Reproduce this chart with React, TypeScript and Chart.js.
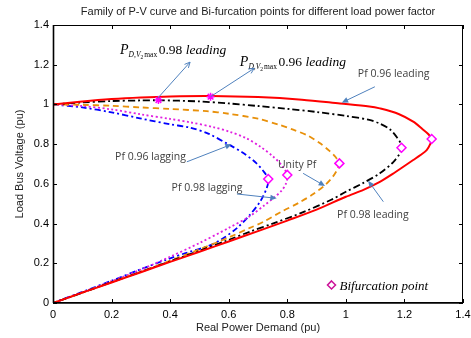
import React, { useEffect, useRef } from "react";
import { Chart, registerables } from "chart.js";

Chart.register(...registerables);

// ---- Data (P = real power demand pu, V = load bus voltage pu) ----
const redP = [0, 0.1, 0.2, 0.3, 0.4, 0.538, 0.7, 0.85, 0.98, 1.08, 1.116, 1.18, 1.23, 1.262, 1.282, 1.293,
  1.288, 1.276, 1.255, 1.23, 1.2, 1.16, 1.116, 1.06, 1.0, 0.9, 0.8, 0.7, 0.6, 0.5, 0.4, 0.3, 0.2, 0.1, 0];
const redV = [1.0, 1.015, 1.027, 1.035, 1.04, 1.042, 1.037, 1.024, 1.005, 0.99, 0.98, 0.952, 0.913, 0.875, 0.85, 0.826,
  0.8, 0.77, 0.745, 0.72, 0.69, 0.65, 0.61, 0.57, 0.535, 0.47, 0.415, 0.362, 0.31, 0.258, 0.207, 0.155, 0.103, 0.052, 0];

const blackP = [0, 0.1, 0.2, 0.3, 0.36, 0.5, 0.6, 0.7, 0.8, 0.9, 1.0, 1.08, 1.116, 1.15, 1.173, 1.187, 1.19,
  1.185, 1.162, 1.116, 1.06, 1.0, 0.95, 0.85, 0.75, 0.672, 0.6, 0.5, 0.4, 0.3, 0.2, 0.1, 0];
const blackV = [1.0, 1.01, 1.017, 1.02, 1.021, 1.015, 1.005, 0.992, 0.978, 0.962, 0.942, 0.922, 0.903, 0.875, 0.837, 0.805, 0.782,
  0.755, 0.71, 0.653, 0.605, 0.56, 0.52, 0.455, 0.4, 0.359, 0.318, 0.263, 0.21, 0.157, 0.105, 0.052, 0];

const orangeP = [0, 0.1, 0.2, 0.3, 0.4, 0.525, 0.6, 0.7, 0.775, 0.82, 0.87, 0.912, 0.945, 0.965, 0.978,
  0.972, 0.955, 0.929, 0.89, 0.84, 0.78, 0.72, 0.672, 0.6, 0.5, 0.4, 0.3, 0.2, 0.1, 0];
const orangeV = [1.0, 0.998, 0.993, 0.985, 0.977, 0.966, 0.953, 0.928, 0.896, 0.873, 0.843, 0.804, 0.765, 0.735, 0.703,
  0.675, 0.635, 0.594, 0.55, 0.505, 0.46, 0.41, 0.378, 0.33, 0.27, 0.213, 0.158, 0.105, 0.052, 0];

const magentaP = [0, 0.1, 0.2, 0.3, 0.4, 0.468, 0.55, 0.604, 0.66, 0.71, 0.75, 0.78, 0.8,
  0.795, 0.78, 0.758, 0.72, 0.672, 0.6, 0.5, 0.4, 0.3, 0.2, 0.1, 0];
const magentaV = [1.0, 0.992, 0.975, 0.95, 0.927, 0.91, 0.885, 0.862, 0.83, 0.785, 0.74, 0.695, 0.645,
  0.6, 0.565, 0.535, 0.49, 0.437, 0.378, 0.302, 0.233, 0.168, 0.11, 0.054, 0];

const blueP = [0, 0.1, 0.2, 0.297, 0.4, 0.468, 0.53, 0.604, 0.65, 0.69, 0.718, 0.735,
  0.73, 0.707, 0.67, 0.627, 0.58, 0.536, 0.45, 0.4, 0.3, 0.2, 0.1, 0];
const blueV = [1.0, 0.985, 0.96, 0.93, 0.9, 0.883, 0.853, 0.795, 0.755, 0.71, 0.665, 0.624,
  0.58, 0.51, 0.44, 0.376, 0.325, 0.29, 0.25, 0.225, 0.17, 0.112, 0.056, 0];

const bifP = [1.293, 1.19, 0.978, 0.8, 0.735];
const bifV = [0.826, 0.782, 0.703, 0.645, 0.624];

const vmaxP = [0.36, 0.538];
const vmaxV = [1.022, 1.039];

const xTicks = [0, 0.2, 0.4, 0.6, 0.8, 1, 1.2, 1.4];
const yTicks = [0, 0.2, 0.4, 0.6, 0.8, 1, 1.2, 1.4];

const titleText = "Family of P-V curve and Bi-furcation points for different load power factor";
const xTitle = "Real Power Demand (pu)";
const yTitle = "Load Bus Voltage (pu)";

const toPts = (xs: number[], ys: number[]) => xs.map((x, i) => ({ x, y: ys[i] }));

const SANS = "'Liberation Sans', Arial, sans-serif";
const SERIF = "'Liberation Serif', 'Times New Roman', serif";
const CAL = "'Open Sans', 'Noto Sans', sans-serif";
const ARROW = "#4F81BD";

function drawArrow(ctx: CanvasRenderingContext2D, x1: number, y1: number, x2: number, y2: number, open: boolean) {
  ctx.save();
  ctx.strokeStyle = ARROW;
  ctx.fillStyle = ARROW;
  ctx.lineWidth = 1;
  const ang = Math.atan2(y2 - y1, x2 - x1);
  const L = open ? 6 : 7;
  const W = open ? 0.45 : 0.42;
  ctx.beginPath();
  ctx.moveTo(x1, y1);
  ctx.lineTo(open ? x2 : x2 - Math.cos(ang) * L * 0.8, open ? y2 : y2 - Math.sin(ang) * L * 0.8);
  ctx.stroke();
  const ax = x2 - Math.cos(ang - W) * L, ay = y2 - Math.sin(ang - W) * L;
  const bx = x2 - Math.cos(ang + W) * L, by = y2 - Math.sin(ang + W) * L;
  ctx.beginPath();
  if (open) {
    ctx.moveTo(ax, ay); ctx.lineTo(x2, y2); ctx.lineTo(bx, by); ctx.stroke();
  } else {
    ctx.moveTo(x2, y2); ctx.lineTo(ax, ay); ctx.lineTo(bx, by); ctx.closePath(); ctx.fill();
  }
  ctx.restore();
}

function drawPLabel(ctx: CanvasRenderingContext2D, x: number, y: number, value: string) {
  ctx.save();
  ctx.fillStyle = "#000";
  ctx.textBaseline = "alphabetic";
  ctx.textAlign = "left";
  let cx = x;
  ctx.font = `italic 14px ${SERIF}`;
  ctx.fillText("P", cx, y); cx += ctx.measureText("P").width;
  ctx.font = `italic 7.5px ${SERIF}`;
  ctx.fillText("D,V", cx, y + 3); cx += ctx.measureText("D,V").width;
  ctx.font = `5.5px ${SERIF}`;
  ctx.fillText("2", cx, y + 5); cx += ctx.measureText("2").width + 1;
  ctx.font = `7.5px ${SERIF}`;
  ctx.fillText("max", cx, y + 3); cx += ctx.measureText("max").width + 1.5;
  ctx.font = `13.5px ${SERIF}`;
  ctx.fillText(value + " ", cx, y); cx += ctx.measureText(value + " ").width;
  ctx.font = `italic 13.5px ${SERIF}`;
  ctx.fillText("leading", cx, y);
  ctx.restore();
}

const decorPlugin = {
  id: "decor",
  afterDraw(chart: any) {
    const ctx: CanvasRenderingContext2D = chart.ctx;
    const { left, right, top, bottom } = chart.chartArea;
    const xs = chart.scales.x, ys = chart.scales.y;
    const px = (v: number) => xs.getPixelForValue(v);
    const py = (v: number) => ys.getPixelForValue(v);
    ctx.save();
    // box
    ctx.strokeStyle = "#000";
    ctx.lineWidth = 1;
    ctx.strokeRect(left + 0.5, top + 0.5, right - left - 1, bottom - top - 1);
    ctx.lineWidth = 1.6;
    ctx.beginPath();
    ctx.moveTo(left, bottom); ctx.lineTo(right, bottom);
    ctx.moveTo(left + 0.5, top); ctx.lineTo(left + 0.5, bottom);
    ctx.stroke();
    ctx.lineWidth = 1;
    ctx.beginPath();
    xTicks.forEach((t) => {
      const x = Math.round(px(t)) + 0.5;
      ctx.moveTo(x, bottom); ctx.lineTo(x, bottom - 4);
      ctx.moveTo(x, top); ctx.lineTo(x, top + 4);
    });
    yTicks.forEach((t) => {
      const y = Math.round(py(t)) + 0.5;
      ctx.moveTo(left, y); ctx.lineTo(left + 4, y);
      ctx.moveTo(right, y); ctx.lineTo(right - 4, y);
    });
    ctx.stroke();

    // titles
    ctx.fillStyle = "#222";
    ctx.font = `11px ${SANS}`;
    ctx.textAlign = "center";
    ctx.textBaseline = "middle";
    ctx.fillText(titleText, (left + right) / 2, 12);
    ctx.fillText(xTitle, (left + right) / 2, 328);
    ctx.save();
    ctx.translate(20, (top + bottom) / 2);
    ctx.rotate(-Math.PI / 2);
    ctx.fillText(yTitle, 0, 0);
    ctx.restore();

    // annotations
    drawPLabel(ctx, px(0.229), py(1.252), "0.98");
    drawPLabel(ctx, px(0.638), py(1.195), "0.96");
    drawArrow(ctx, px(0.358), py(1.032), px(0.468), py(1.213), true);
    drawArrow(ctx, px(0.538), py(1.039), px(0.687), py(1.182), true);

    ctx.font = `10.5px ${CAL}`;
    ctx.fillStyle = "#404040";
    ctx.textAlign = "left";
    ctx.textBaseline = "middle";
    ctx.fillText("Pf 0.96 leading", px(1.041), py(1.153));
    ctx.fillText("Pf 0.96 lagging", px(0.212), py(0.735));
    ctx.fillText("Pf 0.98 lagging", px(0.405), py(0.579));
    ctx.fillText("Unity Pf", px(0.768), py(0.695));
    ctx.fillText("Pf 0.98 leading", px(0.97), py(0.443));

    drawArrow(ctx, px(1.099), py(1.089), px(0.986), py(1.009), false);
    drawArrow(ctx, px(0.457), py(0.711), px(0.61), py(0.799), false);
    drawArrow(ctx, px(0.628), py(0.549), px(0.764), py(0.527), false);
    drawArrow(ctx, px(0.854), py(0.653), px(0.929), py(0.589), false);
    drawArrow(ctx, px(1.128), py(0.51), px(1.076), py(0.616), false);

    // legend
    const lx = px(0.951), ly = py(0.091);
    ctx.strokeStyle = "#CC1199";
    ctx.lineWidth = 1.5;
    ctx.beginPath();
    ctx.moveTo(lx, ly - 4); ctx.lineTo(lx + 4, ly); ctx.lineTo(lx, ly + 4); ctx.lineTo(lx - 4, ly); ctx.closePath();
    ctx.stroke();
    ctx.fillStyle = "#000";
    ctx.font = `italic 13px ${SERIF}`;
    ctx.textBaseline = "alphabetic";
    ctx.fillText("Bifurcation point", lx + 8, ly + 5);
    ctx.restore();
  },
};

export default function App() {
  const ref = useRef<HTMLCanvasElement | null>(null);
  useEffect(() => {
    if (!ref.current) return;
    const line = (data: any, color: string, dash: number[], width: number) => ({
      data, borderColor: color, backgroundColor: color, borderDash: dash, borderWidth: width,
      showLine: true, pointRadius: 0, tension: 0.3, fill: false,
    });
    const chart = new Chart(ref.current, {
      type: "scatter",
      data: {
        datasets: [
          {
            data: toPts(bifP, bifV), pointStyle: "rectRot", pointRadius: 4.5, borderColor: "#FF00FF",
            backgroundColor: "#FFFFFF", borderWidth: 1.5, showLine: false, order: 0,
          } as any,
          {
            data: toPts(vmaxP, vmaxV), pointStyle: "star", pointRadius: 4, borderColor: "#FF00FF",
            backgroundColor: "#FF00FF", borderWidth: 1.5, showLine: false, order: 0,
          } as any,
          { ...line(toPts(redP, redV), "#FF0000", [], 2), order: 1 },
          { ...line(toPts(blackP, blackV), "#000000", [7, 3, 2, 3], 1.8), order: 2 },
          { ...line(toPts(orangeP, orangeV), "#E8900A", [6, 4], 1.8), order: 3 },
          { ...line(toPts(magentaP, magentaV), "#E020E0", [2, 2.5], 1.8), order: 4 },
          { ...line(toPts(blueP, blueV), "#0000FF", [6, 3, 2, 3], 1.8), order: 5 },
        ],
      },
      options: {
        animation: false,
        responsive: false,
        events: [],
        layout: { padding: { left: 0, right: 8, top: 25, bottom: 0 } },
        plugins: { legend: { display: false }, tooltip: { enabled: false }, title: { display: false } },
        scales: {
          x: {
            type: "linear", min: 0, max: 1.4,
            afterFit: (s: any) => { s.height = 35; s.paddingRight = 0; s.paddingLeft = 0; },
            afterBuildTicks: (s: any) => { s.ticks = xTicks.map((v) => ({ value: v })); },
            grid: { display: false, drawTicks: false },
            border: { display: false },
            ticks: { color: "#000", padding: 5, font: { family: SANS, size: 11 }, maxRotation: 0, callback: (v: any) => String(v) },
          },
          y: {
            type: "linear", min: 0, max: 1.4,
            afterFit: (s: any) => { s.width = 53; s.paddingTop = 0; s.paddingBottom = 0; },
            afterBuildTicks: (s: any) => { s.ticks = yTicks.map((v) => ({ value: v })); },
            grid: { display: false, drawTicks: false },
            border: { display: false },
            ticks: { color: "#000", padding: 4, font: { family: SANS, size: 11 }, callback: (v: any) => String(v) },
          },
        },
      } as any,
      plugins: [decorPlugin],
    });
    return () => chart.destroy();
  }, []);
  return (
    <div style={{ position: "absolute", left: 0, top: 0, width: 471, height: 338, background: "#fff" }}>
      <canvas ref={ref} width={471} height={338} style={{ width: 471, height: 338, display: "block" }} />
    </div>
  );
}
